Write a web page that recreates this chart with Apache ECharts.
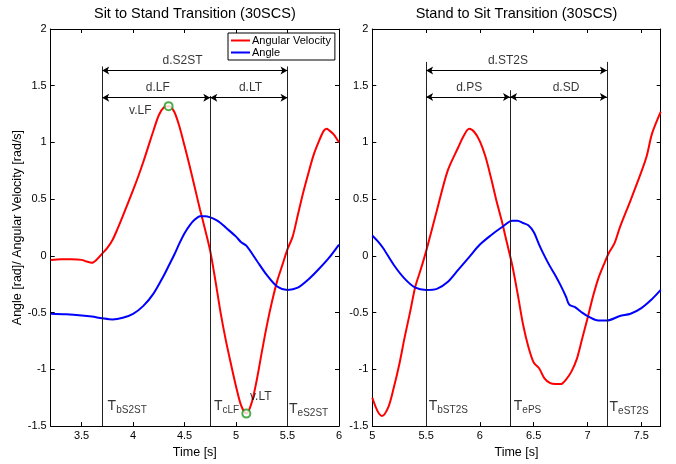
<!DOCTYPE html>
<html>
<head>
<meta charset="utf-8">
<script src="https://cdn.jsdelivr.net/npm/echarts@6/dist/echarts.min.js"></script>
<style>
html, body { margin: 0; padding: 0; background: #fff; }
#chart { width: 676px; height: 464px; }
</style>
</head>
<body>
<div id="chart"></div>
<script type="text/javascript">
// sit to stand (left panel)
var s2stVelTime = [3.2, 3.3, 3.4, 3.5, 3.55, 3.6, 3.65, 3.7, 3.75, 3.8, 3.85, 3.9, 4.0, 4.05, 4.1, 4.15, 4.2, 4.25, 4.3, 4.35, 4.4, 4.45, 4.5, 4.55, 4.6, 4.65, 4.7, 4.75, 4.8, 4.85, 4.9, 4.95, 5.0, 5.05, 5.1, 5.15, 5.2, 5.25, 5.3, 5.35, 5.4, 5.45, 5.5, 5.55, 5.6, 5.65, 5.7, 5.75, 5.8, 5.85, 5.88, 5.9, 5.95, 6.0];
var s2stVel = [-0.035, -0.03, -0.03, -0.035, -0.05, -0.06, -0.03, 0.02, 0.07, 0.14, 0.24, 0.35, 0.58, 0.70, 0.83, 0.97, 1.11, 1.24, 1.31, 1.32, 1.27, 1.14, 0.97, 0.79, 0.60, 0.41, 0.23, 0.04, -0.22, -0.50, -0.74, -0.95, -1.15, -1.32, -1.39, -1.30, -1.10, -0.85, -0.61, -0.40, -0.22, -0.08, 0.06, 0.17, 0.36, 0.55, 0.72, 0.88, 1.00, 1.10, 1.12, 1.11, 1.07, 1.00];
var s2stAngTime = [3.2, 3.35, 3.5, 3.6, 3.7, 3.8, 3.9, 4.0, 4.1, 4.2, 4.3, 4.35, 4.4, 4.45, 4.5, 4.55, 4.6, 4.65, 4.7, 4.75, 4.8, 4.85, 4.9, 5.0, 5.05, 5.1, 5.2, 5.3, 5.4, 5.5, 5.6, 5.7, 5.8, 5.9, 6.0];
var s2stAng = [-0.51, -0.515, -0.525, -0.535, -0.55, -0.56, -0.545, -0.51, -0.44, -0.33, -0.17, -0.08, 0.01, 0.11, 0.20, 0.27, 0.32, 0.35, 0.35, 0.34, 0.32, 0.29, 0.25, 0.17, 0.12, 0.09, -0.04, -0.17, -0.27, -0.30, -0.28, -0.21, -0.12, -0.02, 0.10];

// stand to sit (right panel)
var st2sVelTime = [5.0, 5.05, 5.09, 5.15, 5.2, 5.25, 5.3, 5.35, 5.4, 5.45, 5.5, 5.55, 5.6, 5.7, 5.8, 5.85, 5.9, 5.95, 6.0, 6.05, 6.1, 6.15, 6.2, 6.25, 6.3, 6.35, 6.4, 6.45, 6.5, 6.55, 6.6, 6.65, 6.7, 6.75, 6.8, 6.85, 6.9, 6.95, 7.0, 7.05, 7.1, 7.15, 7.2, 7.25, 7.3, 7.4, 7.5, 7.55, 7.6, 7.68];
var st2sVel = [-1.25, -1.37, -1.41, -1.33, -1.16, -0.96, -0.72, -0.50, -0.27, -0.12, 0.04, 0.22, 0.40, 0.75, 0.96, 1.06, 1.12, 1.09, 1.01, 0.88, 0.70, 0.50, 0.32, 0.12, -0.08, -0.33, -0.60, -0.80, -0.94, -0.99, -1.08, -1.12, -1.13, -1.13, -1.09, -1.02, -0.91, -0.73, -0.55, -0.36, -0.20, -0.08, 0.03, 0.11, 0.25, 0.49, 0.74, 0.88, 1.08, 1.27];
var st2sAngTime = [5.0, 5.05, 5.1, 5.2, 5.3, 5.4, 5.5, 5.6, 5.7, 5.8, 5.9, 6.0, 6.1, 6.2, 6.3, 6.35, 6.4, 6.45, 6.5, 6.55, 6.6, 6.65, 6.7, 6.75, 6.8, 6.83, 6.88, 6.95, 7.0, 7.1, 7.18, 7.3, 7.4, 7.5, 7.6, 7.68];
var st2sAng = [0.18, 0.13, 0.07, -0.08, -0.20, -0.28, -0.30, -0.29, -0.23, -0.12, -0.01, 0.10, 0.18, 0.25, 0.31, 0.31, 0.29, 0.27, 0.21, 0.10, 0.0, -0.09, -0.17, -0.26, -0.36, -0.43, -0.45, -0.50, -0.53, -0.57, -0.57, -0.53, -0.51, -0.46, -0.38, -0.30];

// ticks
var s2stXTicks = [3.5, 4, 4.5, 5, 5.5, 6];
var st2sXTicks = [5, 5.5, 6, 6.5, 7, 7.5];
var yTicks = [-1.5, -1, -0.5, 0, 0.5, 1, 1.5, 2];

// event lines [time, top]
var s2stEvents = [[3.7, 1.67], [4.75, 1.41], [5.5, 1.67]];
var st2sEvents = [[5.5, 1.71], [6.28, 1.46], [7.18, 1.71]];
// duration arrows [from, to, level]
var s2stSpans = [[3.7, 5.5, 1.635], [3.7, 4.75, 1.395], [4.75, 5.5, 1.395]];
var st2sSpans = [[5.5, 7.18, 1.635], [5.5, 6.28, 1.40], [6.28, 7.18, 1.40]];
// text notes [x, y, text]
var s2stNotes = [[4.48, 1.722, 'd.S2ST'], [4.24, 1.486, 'd.LF'], [5.14, 1.486, 'd.LT'], [4.07, 1.28, 'v.LF'], [5.24, -1.245, 'v.LT']];
var st2sNotes = [[6.26, 1.722, 'd.ST2S'], [5.90, 1.486, 'd.PS'], [6.80, 1.486, 'd.SD']];
// event time labels [x, y, subscript]
var s2stTimes = [[3.748, -1.33, 'bS2ST'], [4.78, -1.33, 'cLF'], [5.51, -1.36, 'eS2ST']];
var st2sTimes = [[5.52, -1.33, 'bST2S'], [6.31, -1.33, 'ePS'], [7.20, -1.34, 'eST2S']];
// peak markers
var s2stPeaks = [[4.345, 1.32], [5.10, -1.39]];

var FONT = "'Liberation Sans', Arial, Helvetica, sans-serif";

function zip(xs, ys) {
    var out = [];
    for (var i = 0; i < xs.length; i++) out.push([xs[i], ys[i]]);
    return out;
}
function eventLines(list) {
    return list.map(function (e) {
        return [{ coord: [e[0], e[1]] }, { coord: [e[0], -1.5] }];
    });
}
function spanLines(list) {
    return list.map(function (s) {
        return [{ coord: [s[0], s[2]] }, { coord: [s[1], s[2]] }];
    });
}

function xAxes(gridIndex, min, max, ticks, title) {
    return [
        {
            type: 'value', gridIndex: gridIndex, position: 'bottom', min: min, max: max,
            name: 'Time [s]', nameLocation: 'middle', nameGap: 14,
            nameTextStyle: { color: '#000', fontSize: 12.5, fontFamily: FONT },
            axisLine: { onZero: false, lineStyle: { color: '#000', width: 1 } },
            axisTick: { inside: true, length: 4, customValues: ticks, lineStyle: { color: '#000' } },
            axisLabel: { customValues: ticks, color: '#000', fontSize: 11, fontFamily: FONT, margin: 4 },
            splitLine: { show: false }
        },
        {
            type: 'value', gridIndex: gridIndex, position: 'top', min: min, max: max,
            name: title, nameLocation: 'middle', nameGap: 8,
            nameTextStyle: { color: '#000', fontSize: 14.5, fontFamily: FONT },
            axisLine: { onZero: false, lineStyle: { color: '#000', width: 1 } },
            axisTick: { inside: true, length: 4, customValues: ticks, lineStyle: { color: '#000' } },
            axisLabel: { show: false },
            splitLine: { show: false }
        }
    ];
}
function yAxes(gridIndex, name) {
    return [
        {
            type: 'value', gridIndex: gridIndex, position: 'left', min: -1.5, max: 2,
            name: name, nameLocation: 'middle', nameGap: 24.5,
            nameTextStyle: { color: '#000', fontSize: 12.5, fontFamily: FONT },
            axisLine: { show: true, onZero: false, lineStyle: { color: '#000', width: 1 } },
            axisTick: { show: true, inside: true, length: 4, customValues: yTicks, lineStyle: { color: '#000' } },
            axisLabel: { customValues: yTicks, color: '#000', fontSize: 11, fontFamily: FONT, margin: 4 },
            splitLine: { show: false }
        },
        {
            type: 'value', gridIndex: gridIndex, position: 'right', min: -1.5, max: 2,
            axisLine: { show: true, onZero: false, lineStyle: { color: '#000', width: 1 } },
            axisTick: { show: true, inside: true, length: 4, customValues: yTicks, lineStyle: { color: '#000' } },
            axisLabel: { show: false },
            splitLine: { show: false }
        }
    ];
}

function panelSeries(xIdx, yIdx, velT, vel, angT, ang, events, spans, notes, times, peaks) {
    var list = [
        {
            name: 'Angular Velocity', type: 'line', xAxisIndex: xIdx, yAxisIndex: yIdx,
            data: zip(velT, vel), smooth: 0.3, showSymbol: false, z: 3,
            lineStyle: { color: '#ff0000', width: 2 }, itemStyle: { color: '#ff0000' },
            markLine: {
                silent: true, symbol: ['none', 'none'], animation: false,
                label: { show: false },
                lineStyle: { color: '#222', width: 1, type: 'solid' },
                data: eventLines(events)
            }
        },
        {
            name: 'Angle', type: 'line', xAxisIndex: xIdx, yAxisIndex: yIdx,
            data: zip(angT, ang), smooth: 0.3, showSymbol: false, z: 3,
            lineStyle: { color: '#0000ff', width: 2 }, itemStyle: { color: '#0000ff' },
            markLine: {
                silent: true, symbol: ['arrow', 'arrow'], symbolSize: [6, 7], animation: false,
                label: { show: false },
                lineStyle: { color: '#000', width: 1, type: 'solid' },
                data: spanLines(spans)
            }
        },
        {
            name: 'notes', type: 'scatter', xAxisIndex: xIdx, yAxisIndex: yIdx,
            data: notes, symbolSize: 1, itemStyle: { color: 'rgba(0,0,0,0)' }, silent: true, z: 4,
            label: {
                show: true, position: 'inside', color: '#000', fontSize: 12, fontFamily: FONT,
                formatter: function (p) { return p.data[2]; }
            }
        },
        {
            name: 'times', type: 'scatter', xAxisIndex: xIdx, yAxisIndex: yIdx,
            data: times, symbolSize: 1, itemStyle: { color: 'rgba(0,0,0,0)' }, silent: true, z: 4,
            label: {
                show: true, position: 'right', distance: 0, color: '#000', fontFamily: FONT,
                formatter: function (p) { return '{t|T}{s|' + p.data[2] + '}'; },
                rich: {
                    t: { fontSize: 14, lineHeight: 16, verticalAlign: 'top', fontFamily: FONT, color: '#000' },
                    s: { fontSize: 10, lineHeight: 12, padding: [11, 0, 0, 0], verticalAlign: 'bottom', fontFamily: FONT, color: '#000' }
                }
            }
        }
    ];
    if (peaks) {
        list.push({
            name: 'peaks', type: 'scatter', xAxisIndex: xIdx, yAxisIndex: yIdx,
            data: peaks, symbol: 'emptyCircle', symbolSize: 8, silent: true, z: 5,
            itemStyle: { color: '#1e9a1e', borderColor: '#1e9a1e', borderWidth: 1.6 }
        });
    }
    return list;
}

var chart = echarts.init(document.getElementById('chart'));
var option = {
    animation: false,
    backgroundColor: '#fff',
    textStyle: { fontFamily: FONT },
    grid: [
        { left: 50.7, top: 29, width: 288.3, height: 403.7 },
        { left: 372.3, top: 29, width: 288.4, height: 403.7 }
    ],
    legend: {
        data: ['Angular Velocity', 'Angle'],
        orient: 'vertical', left: 228, top: 33,
        icon: 'rect', itemWidth: 19, itemHeight: 2, itemGap: 1,
        padding: [2, 4, 2, 3],
        borderColor: '#000', borderWidth: 1, backgroundColor: '#fff',
        selectedMode: false,
        textStyle: { color: '#000', fontSize: 11, fontFamily: FONT, padding: [0, 0, 0, -3] }
    },
    xAxis: xAxes(0, 3.2, 6, s2stXTicks, 'Sit to Stand Transition (30SCS)')
        .concat(xAxes(1, 5, 7.68, st2sXTicks, 'Stand to Sit Transition (30SCS)')),
    yAxis: yAxes(0, 'Angle [rad]/ Angular Velocity [rad/s]').concat(yAxes(1, '')),
    series: panelSeries(0, 0, s2stVelTime, s2stVel, s2stAngTime, s2stAng, s2stEvents, s2stSpans, s2stNotes, s2stTimes, s2stPeaks)
        .concat(panelSeries(2, 2, st2sVelTime, st2sVel, st2sAngTime, st2sAng, st2sEvents, st2sSpans, st2sNotes, st2sTimes, null))
};
chart.setOption(option);
</script>
</body>
</html>
